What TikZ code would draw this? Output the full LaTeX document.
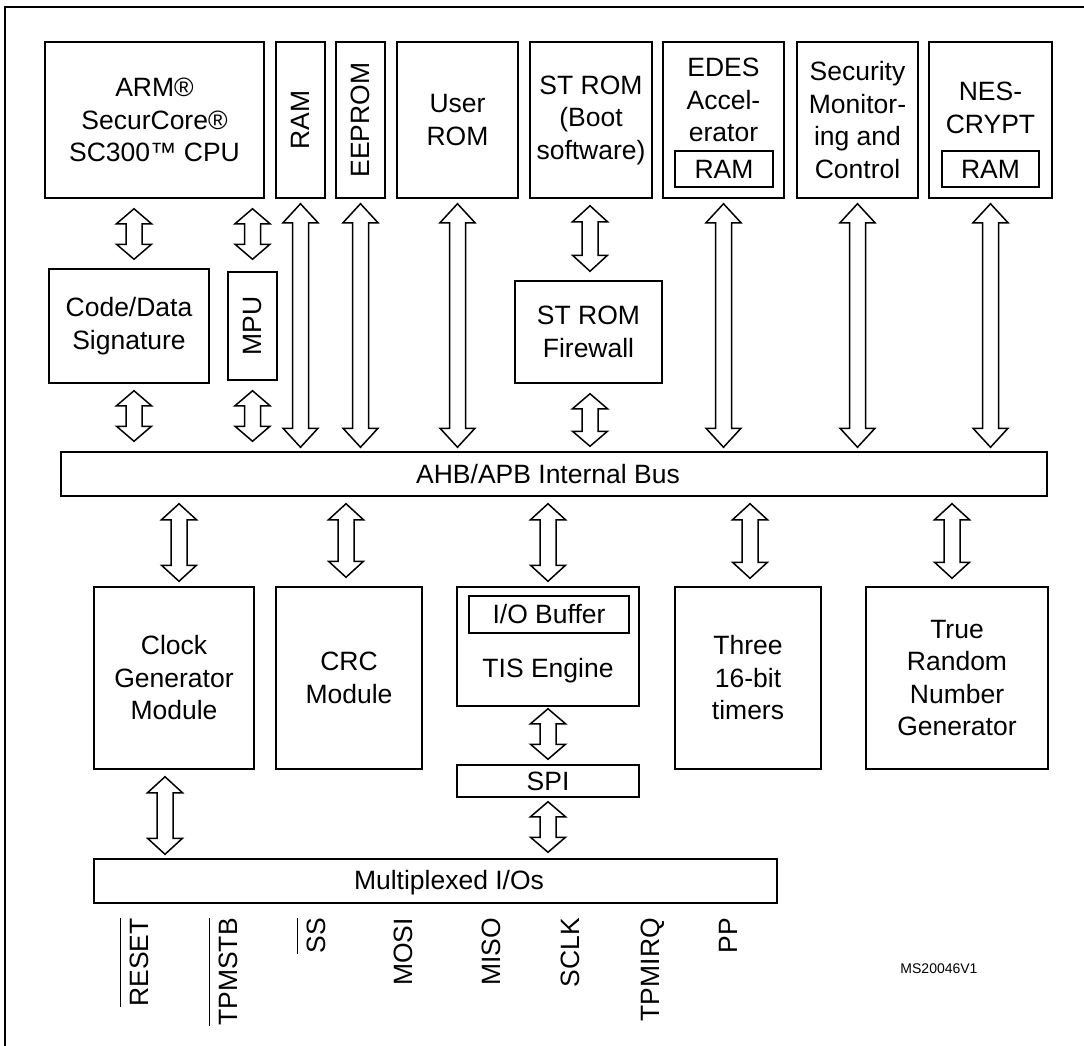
\documentclass[tikz,border=0pt]{standalone}
\usepackage{fontspec}
\setmainfont{Liberation Sans}
\usetikzlibrary{calc}

\newlength{\pinlen}
\newcommand{\barred}[1]{\settowidth{\pinlen}{#1}\rlap{\rule[1.02em]{\pinlen}{1.3pt}}#1}

\begin{document}
\begin{tikzpicture}[x=1pt, y=-1pt,
	box/.style={draw, line width=1.5pt, inner sep=0pt, align=center, font=\fontsize{26.5}{32.5}\selectfont},
	lbl/.style={inner sep=0pt, align=center, font=\fontsize{26.5}{32.5}\selectfont},
	pin/.style={inner sep=0pt, rotate=90, anchor=base east, font=\fontsize{26.5}{32.5}\selectfont},
	fat/.style={draw, fill=white, line width=1.5pt, line join=miter, to path={let \p1=(\tikztostart), \p2=(\tikztotarget) in
		(\x1,\y1) -- (\x1+17.5pt,\y1-#1) -- (\x1+8pt,\y1-#1) -- (\x1+8pt,\y2+#1) -- (\x1+17.5pt,\y2+#1) -- (\x1,\y2)
		-- (\x1-17.5pt,\y2+#1) -- (\x1-8pt,\y2+#1) -- (\x1-8pt,\y1-#1) -- (\x1-17.5pt,\y1-#1) -- cycle}},
	fat/.default=17pt]
		\useasboundingbox (0,0) rectangle (1084,1046);
		\draw[line width=1.5pt] (5,1060) -- (5,7) -- (1100,7);
		% top row
		\node[box, minimum width=219pt, minimum height=156pt](cpu) at (154.5,120){ARM®\\SecurCore®\\SC300™ CPU};
		\node[box, minimum width=49pt, minimum height=156pt](ram) at (300.5,120){\rotatebox{90}{RAM}};
		\node[box, minimum width=49pt, minimum height=156pt](eeprom) at (360.5,120){\rotatebox{90}{EEPROM}};
		\node[box, minimum width=121pt, minimum height=156pt](userrom) at (457.5,120){User\\ROM};
		\node[box, minimum width=122pt, minimum height=156pt](strom) at (591,120){ST ROM\\(Boot\\software)};
		\node[box, minimum width=121pt, minimum height=156pt](edes) at (723.5,120){};
		\node[lbl](edestxt) at (723.5,100){EDES\\Accel-\\erator};
		\node[box, minimum width=98pt, minimum height=36pt](edesram) at (724,169){RAM};
		\node[box, minimum width=121pt, minimum height=156pt](secmon) at (857.5,120){Security\\Monitor-\\ing and\\Control};
		\node[box, minimum width=123pt, minimum height=156pt](nes) at (990.5,120){};
		\node[lbl](nestxt) at (990.5,108){NES-\\CRYPT};
		\node[box, minimum width=97pt, minimum height=36pt](nesram) at (990.5,169){RAM};
		% second row and bus
		\node[box, minimum width=160pt, minimum height=114pt](sig) at (129,326){Code/Data\\Signature};
		\node[box, minimum width=49pt, minimum height=108pt](mpu) at (252.5,326){\rotatebox{90}{MPU}};
		\node[box, minimum width=147pt, minimum height=102pt](fw) at (588.5,332){ST ROM\\Firewall};
		\node[box, minimum width=986pt, minimum height=44pt](bus) at (554,474){};
		\node[lbl](bustxt) at (548,474){AHB/APB Internal Bus};
		% peripherals
		\node[box, minimum width=160pt, minimum height=182pt](clk) at (174,678){Clock\\Generator\\Module};
		\node[box, minimum width=146pt, minimum height=182pt](crc) at (349,678){CRC\\Module};
		\node[box, minimum width=182pt, minimum height=119pt](tis) at (548,646.5){};
		\node[box, minimum width=160pt, minimum height=37pt](iobuf) at (549,614.5){I/O Buffer};
		\node[lbl](tistxt) at (548,671){TIS Engine};
		\node[box, minimum width=182pt, minimum height=32pt](spi) at (548,781){SPI};
		\node[box, minimum width=146pt, minimum height=182pt](timers) at (748,678){Three\\16-bit\\timers};
		\node[box, minimum width=182pt, minimum height=182pt](trng) at (957,678){True\\Random\\Number\\Generator};
		\node[box, minimum width=683pt, minimum height=44pt](mux) at (435.5,881){};
		\node[lbl](muxtxt) at (449,883){Multiplexed I/Os};
		% pins
		\node[pin](reset) at (148,918){\barred{RESET}};
		\node[pin](tpmstb) at (237,918){\barred{TPMSTB}};
		\node[pin](ss) at (325,918){\barred{SS}};
		\node[pin](mosi) at (412,918){MOSI};
		\node[pin](miso) at (500,918){MISO};
		\node[pin](sclk) at (579,918){SCLK};
		\node[pin](tpmirq) at (659,918){TPMIRQ};
		\node[pin](pp) at (737,918){PP};
		\node[inner sep=0pt, font=\fontsize{14}{16}\selectfont](docid) at (939,969){MS20046V1};
		% bus arrows
		\draw[fat=15pt] ($(cpu.south -| sig.north)+(5,10)$) to ($(sig.north)+(5,-9)$);
		\draw[fat=15pt] ($(cpu.south -| mpu.north)+(0,10)$) to ($(mpu.north)+(0,-12)$);
		\draw[fat=15pt] ($(sig.south)+(5,7)$) to ($(sig.south |- bus.north)+(5,-10)$);
		\draw[fat=15pt] ($(mpu.south)+(0,10)$) to ($(mpu.south |- bus.north)+(0,-10)$);
		\draw[fat=19pt] ($(ram.south)+(0,5)$) to ($(ram.south |- bus.north)+(0,-4)$);
		\draw[fat=19pt] ($(eeprom.south)+(0,5)$) to ($(eeprom.south |- bus.north)+(0,-4)$);
		\draw[fat=19pt] ($(userrom.south)+(0,5)$) to ($(userrom.south |- bus.north)+(0,-4)$);
		\draw[fat=16pt] ($(strom.south)+(-1,7)$) to ($(strom.south |- fw.north)+(-1,-9)$);
		\draw[fat=15pt] ($(fw.south)+(1.5,10)$) to ($(fw.south |- bus.north)+(1.5,-5)$);
		\draw[fat=19pt] ($(edes.south)+(0,5)$) to ($(edes.south |- bus.north)+(0,-4)$);
		\draw[fat=19pt] ($(secmon.south)+(0,5)$) to ($(secmon.south |- bus.north)+(0,-4)$);
		\draw[fat=19pt] ($(nes.south)+(0,5)$) to ($(nes.south |- bus.north)+(0,-4)$);
		\draw[fat=16pt] ($(bus.south -| clk.north)+(5,7)$) to ($(clk.north)+(5,-5)$);
		\draw[fat=16pt] ($(bus.south -| crc.north)+(-3,7)$) to ($(crc.north)+(-3,-9)$);
		\draw[fat=16pt] ($(bus.south -| tis.north)+(0,7)$) to ($(tis.north)+(0,-5)$);
		\draw[fat=16pt] ($(bus.south -| timers.north)+(2,7)$) to ($(timers.north)+(2,-8)$);
		\draw[fat=16pt] ($(bus.south -| trng.north)+(-5,7)$) to ($(trng.north)+(-5,-8)$);
		\draw[fat=15pt] ($(tis.south)+(0,2)$) to ($(spi.north)+(0,-5)$);
		\draw[fat=15pt] ($(spi.south)+(0,4)$) to ($(spi.south |- mux.north)+(0,-6)$);
		\draw[fat=16pt] ($(clk.south)+(-9,7)$) to ($(clk.south |- mux.north)+(-9,-4)$);
	\end{tikzpicture}
\end{document}
